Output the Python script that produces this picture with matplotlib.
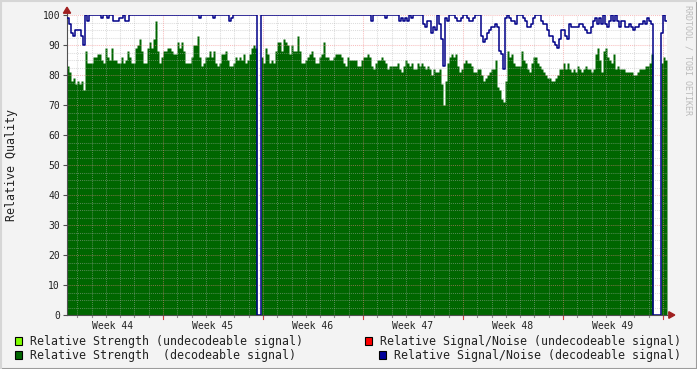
import numpy as np
import matplotlib
matplotlib.use("Agg")
import matplotlib.pyplot as plt
from matplotlib.patches import Rectangle, Polygon
from matplotlib.lines import Line2D

# ---------------- data (one sample every 0.14 day, ~3.4 h) ----------------
strength = [
83,81,78,79,77,78,77,78,75,88,
84,84,84,86,86,87,87,85,84,89,
86,85,89,85,85,84,84,86,84,85,
88,86,84,84,89,90,92,88,84,84,
89,91,89,92,98,88,84,86,88,88,
89,89,88,87,87,91,89,91,88,84,
84,84,86,90,90,93,86,83,84,86,
86,88,86,88,84,83,84,87,87,88,
85,83,83,84,86,85,86,85,87,84,
85,87,89,90,89,0,0,86,84,89,
87,84,85,84,88,91,91,88,92,91,
90,87,90,88,88,93,88,84,84,85,
86,87,88,86,84,84,86,87,91,86,
86,85,85,86,87,87,87,86,84,83,
86,85,85,85,85,83,83,85,86,86,
87,86,83,82,84,85,85,86,85,84,
82,83,83,83,83,84,82,81,83,85,
84,83,84,82,82,84,83,84,83,82,
83,82,80,82,81,81,82,77,70,78,
84,86,87,86,87,83,81,82,84,85,
84,84,83,81,81,82,82,80,78,79,
80,81,82,82,85,76,75,72,71,78,
88,86,87,84,83,83,83,88,85,84,
82,81,84,86,86,84,83,82,81,80,
79,79,78,78,79,80,82,82,84,82,
84,82,81,82,81,83,82,81,82,83,
82,82,81,82,87,89,85,81,88,89,
86,85,84,87,82,83,82,82,82,81,
81,81,81,80,80,81,82,82,82,83,
83,84,87,0,0,0,0,84,86,85]

snr = [
99,97,94,93,95,95,95,93,90,100,
98,100,100,100,100,100,100,99,100,100,
99,100,100,98,98,98,99,99,100,98,
98,100,100,100,100,100,100,100,100,100,
100,100,100,100,100,100,100,100,100,100,
100,100,100,100,100,100,100,100,100,100,
100,100,100,100,100,100,99,100,100,100,
100,100,100,99,100,100,100,100,100,100,
100,98,99,100,100,100,100,100,100,100,
100,100,100,100,100,0,0,100,100,100,
100,100,100,100,100,100,100,100,100,100,
100,100,100,100,100,100,100,100,100,100,
100,100,100,100,100,100,100,100,100,100,
100,100,100,100,100,100,100,100,100,100,
100,100,100,100,100,100,100,100,100,100,
100,100,98,100,100,100,100,100,100,99,
100,100,100,100,100,100,98,99,98,99,
98,100,99,100,100,100,100,100,97,96,
98,98,94,96,95,100,97,92,83,99,
98,100,100,100,99,98,98,99,100,100,
99,98,98,99,100,100,100,93,91,92,
94,95,96,96,97,96,88,87,82,99,
100,99,98,98,97,100,100,100,99,98,
96,96,97,99,100,100,100,98,97,97,
95,93,93,91,90,89,92,95,95,93,
92,97,96,96,96,96,97,97,96,95,
94,94,96,98,99,97,99,97,100,97,
96,98,100,98,100,98,96,98,98,96,
96,97,96,95,96,96,97,97,98,97,
99,98,97,0,0,0,0,94,100,98]

week_labels = ["Week 44", "Week 45", "Week 46", "Week 47", "Week 48", "Week 49"]
step_days = 0.14
first_week_boundary = 6.72   # days after start of the plot

legend_labels = ["Relative Strength (undecodeable signal)",
                 "Relative Strength  (decodeable signal)",
                 "Relative Signal/Noise (undecodeable signal)",
                 "Relative Signal/Noise (decodeable signal)"]
legend_colors = ["#80FF00", "#006600", "#FF0000", "#000099"]

# ---------------- figure ----------------
W, H = 697, 369
BG = "#F3F3F3"
plt.rcParams['font.family'] = ['DejaVu Sans Mono']
fig = plt.figure(figsize=(W / 100, H / 100), dpi=100, facecolor=BG)
ax = fig.add_axes([67 / W, (H - 315) / H, 600 / W, 300 / H])
ax.set_facecolor("white")

n = len(strength)
t = np.arange(n + 1) * step_days
g = np.append(strength, strength[-1])
b = np.append(snr, snr[-1])
tmax = n * step_days

ax.fill_between(t, 0, g, step="post", color="#006600", lw=0, zorder=1)

# grid (drawn above the area like rrdtool)
minor_c = (0.70, 0.70, 0.70, 0.45)
major_c = (0.95, 0.50, 0.50, 0.50)
dot = (0, (1, 1))
for y in np.arange(0, 100.01, 2.5):
    if abs(y % 10) < 1e-6:
        continue
    ax.axhline(y, color=minor_c, lw=0.75, ls=dot, zorder=2)
for y in range(10, 101, 10):
    ax.axhline(y, color=major_c, lw=0.75, ls=dot, zorder=2)
days = np.arange(first_week_boundary - 7, tmax + 0.01, 1.0)
weeks = np.arange(first_week_boundary, tmax + 0.01, 7.0)
for d in days:
    if d <= 0.05:
        continue
    if np.min(np.abs(weeks - d)) < 1e-6:
        continue
    ax.axvline(d, color=minor_c, lw=0.75, ls=dot, zorder=2)
for w in weeks:
    ax.axvline(w, color=major_c, lw=0.75, ls=dot, zorder=2)

ax.step(t, b, where="post", color="#000088", lw=1.1, zorder=4)

ax.set_xlim(0, tmax)
ax.set_ylim(0, 100)
for s in ["top", "right"]:
    ax.spines[s].set_visible(False)
for s in ["left", "bottom"]:
    ax.spines[s].set_color("#505050")
    ax.spines[s].set_linewidth(0.8)

centers = weeks - 3.5
ax.set_xticks(centers)
ax.set_xticklabels(week_labels, fontsize=7, color="#222222")
ax.tick_params(axis="x", length=0, pad=4)
ax.set_yticks(range(0, 101, 10))
ax.set_yticklabels([str(v) for v in range(0, 101, 10)], fontsize=7, color="#222222")
ax.tick_params(axis="y", length=3, width=0.8, color="#505050", pad=2)

# small tick marks under the x axis
xt = ax.get_xaxis_transform()
for d in days:
    if 0 < d < tmax:
        ax.plot([d, d], [-0.008, 0], color="#909090", lw=0.8, transform=xt, clip_on=False)
for w in weeks:
    ax.plot([w, w], [-0.012, 0], color="#D04040", lw=0.8, transform=xt, clip_on=False)

# arrows
ax.plot([0, 0], [1.0, 1.01], color="#505050", lw=0.8, transform=ax.transAxes, clip_on=False)
ax.add_patch(Polygon([[-0.006, 1.006], [0.006, 1.006], [0, 1.026]], closed=True,
                     transform=ax.transAxes, color="#A02020", clip_on=False, zorder=5))
ax.add_patch(Polygon([[1.003, -0.011], [1.003, 0.011], [1.013, 0]], closed=True,
                     transform=ax.transAxes, color="#A02020", clip_on=False, zorder=5))

# y label
fig.text(12 / W, 1 - 165 / H, "Relative Quality", rotation=90, ha="center", va="center",
         fontsize=8.4, color="#222222")

# watermark
fig.text(688 / W, 1 - 5 / H, "RRDTOOL / TOBI OETIKER", rotation=270, ha="center", va="top",
         fontsize=6.0, color="#BBBBBB")

# legend
pos = [(15, 341, 30), (15, 355, 30), (365, 341, 380), (379, 355, 394)]
for (sx, cy, tx), lab, col in zip(pos, legend_labels, legend_colors):
    fig.add_artist(Rectangle((sx / W, 1 - (cy + 4) / H), 7 / W, 8 / H, transform=fig.transFigure,
                             facecolor=col, edgecolor="black", lw=0.8))
    fig.text(tx / W, 1 - cy / H, lab, ha="left", va="center", fontsize=8.4, color="#222222")

# frame of the image
fig.add_artist(Line2D([0, 1], [0.5 / H, 0.5 / H], transform=fig.transFigure, color="#9C9C9C", lw=1.5))
fig.add_artist(Line2D([1 - 0.5 / W, 1 - 0.5 / W], [0, 1], transform=fig.transFigure, color="#9C9C9C", lw=1.5))
fig.add_artist(Line2D([0, 1], [1 - 0.5 / H, 1 - 0.5 / H], transform=fig.transFigure, color="#D6D6D6", lw=1.5))
fig.add_artist(Line2D([0.5 / W, 0.5 / W], [0, 1], transform=fig.transFigure, color="#D6D6D6", lw=1.5))

fig.savefig("out.png", dpi=100, facecolor=BG)
